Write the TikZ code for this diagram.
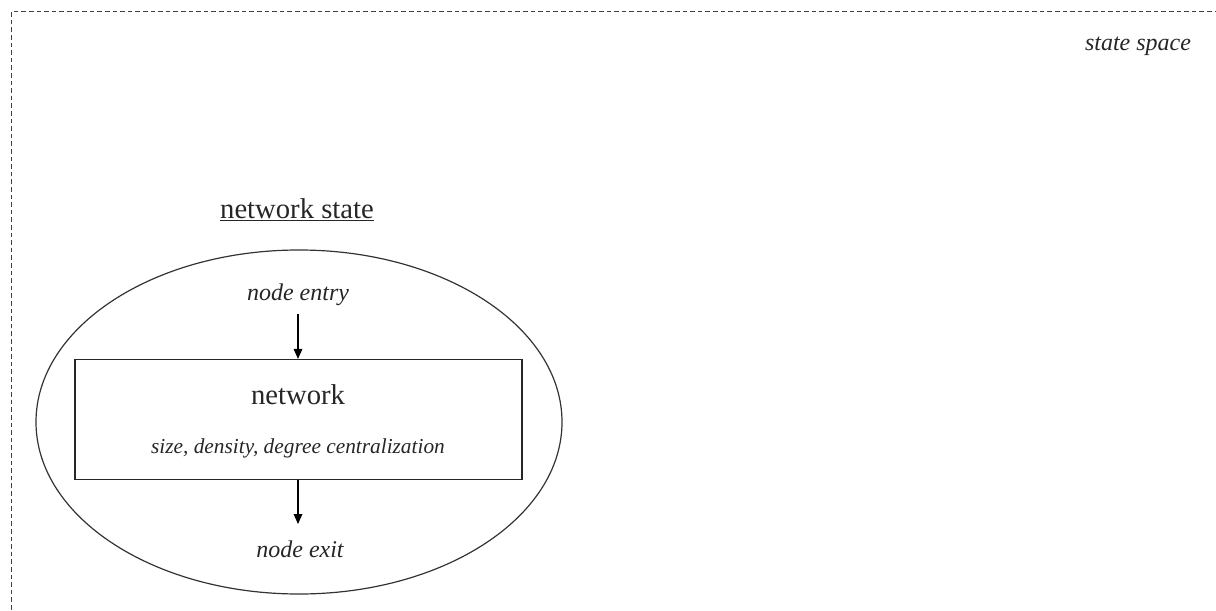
\documentclass[tikz,border=0pt]{standalone}
\usepackage{fontspec}
\setmainfont{Liberation Serif}
\usetikzlibrary{arrows.meta,shapes.geometric}
\begin{document}
\begin{tikzpicture}[x=0.75pt,y=-0.75pt,
  frame/.style={draw=black!75,line width=0.75pt,dash pattern=on 3.5pt off 2.2pt},
  shell/.style={draw=black!80,line width=0.9pt},
  netbox/.style={draw=black!85,line width=0.9pt,minimum width=447*0.75pt,minimum height=120*0.75pt,inner sep=0pt},
  flow/.style={-{Triangle[length=7.5pt,width=6.5pt]},line width=0.8pt,black},
  lbl/.style={text=black!85,inner sep=0pt,font=\fontsize{18}{20}\selectfont\itshape},
  title/.style={text=black!85,inner sep=0pt,font=\fontsize{21.5}{24}\selectfont},
  sub/.style={text=black!85,inner sep=0pt,font=\fontsize{16}{18}\selectfont\itshape}]
\useasboundingbox (0,0) rectangle (1216,610);

% state space frame, open to the right and below
\draw[frame] (11,640) -- (11,12) -- (1240,12);
\node[lbl] (space) at (1138,46) {state space};

% network state
\node[title,anchor=base] (statetitle) at (297,218) {\underline{network state}};
\node[shell,ellipse,minimum width=526*0.75pt,minimum height=344*0.75pt,inner sep=0pt] (state) at (299,422) {};
\node[netbox] (net) at (298.5,419.5) {};
\node[title] (netname) at (298,395) {network};
\node[sub] (measures) at (298,448) {size, density, degree centralization};

\node[lbl] (entry) at (298,295) {node entry};
\node[lbl] (exit) at (300,549) {node exit};

% flow into and out of the network
\coordinate (ein) at (298,314);
\draw[flow] (ein) -- (net.north -| ein);
\coordinate (xout) at (298,524);
\draw[flow] (net.south -| xout) -- (xout);
\end{tikzpicture}
\end{document}
